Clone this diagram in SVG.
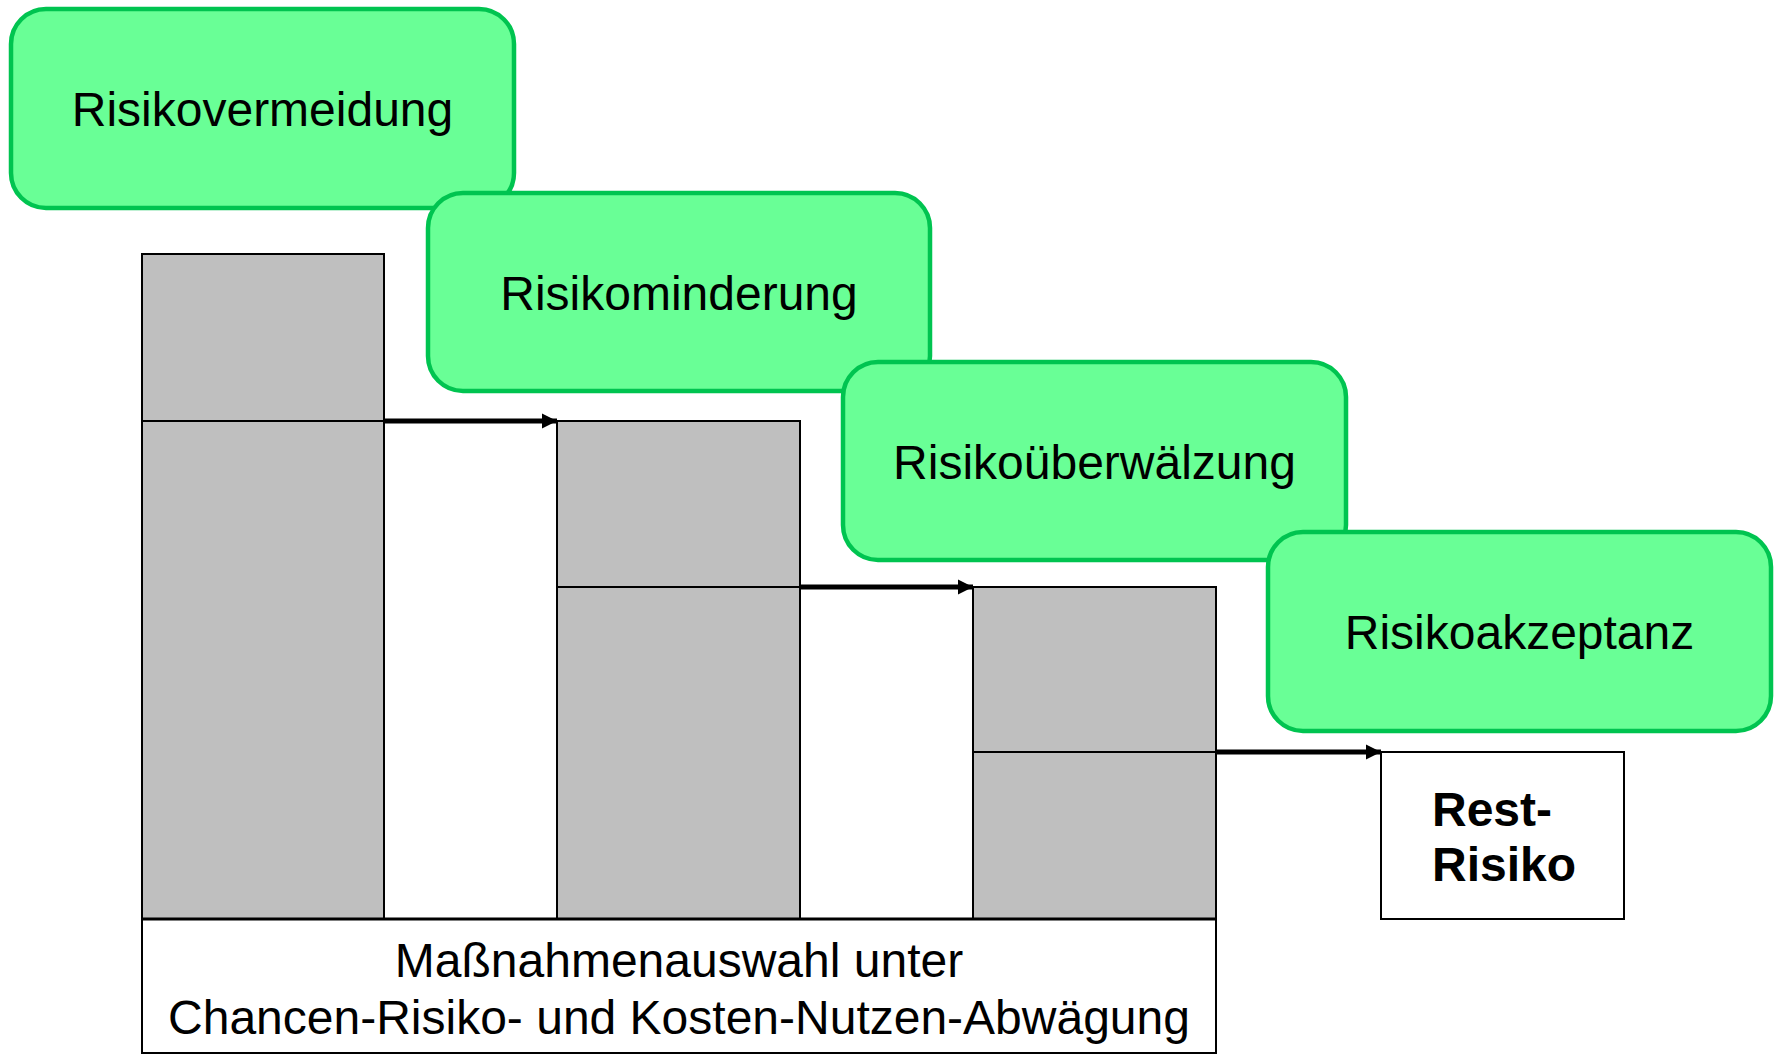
<svg xmlns="http://www.w3.org/2000/svg" width="1779" height="1054" viewBox="0 0 1779 1054">
<defs>
<style>
.stage{fill:#69FF96;stroke:#00C450;stroke-width:4.5}
.bar{fill:#BFBFBF;stroke:#000;stroke-width:2}
.lbl{font-family:"Liberation Sans",Arial,sans-serif;font-size:48px;fill:#000;text-anchor:middle}
.bold{font-family:"Liberation Sans",Arial,sans-serif;font-size:48px;font-weight:bold;fill:#000}
.conn{stroke:#000;stroke-width:5;fill:none}
</style>
<marker id="ah" markerUnits="userSpaceOnUse" markerWidth="16" markerHeight="16" refX="15" refY="8" orient="auto">
<path d="M0,0.5 L15,8 L0,15.5 Z" fill="#000"/>
</marker>
</defs>
<rect width="1779" height="1054" fill="#fff"/>
<g id="bars">
<g id="bar1">
<rect class="bar" x="142" y="254" width="242" height="167"/>
<rect class="bar" x="142" y="421" width="242" height="498"/>
</g>
<g id="bar2">
<rect class="bar" x="557" y="421" width="243" height="166"/>
<rect class="bar" x="557" y="587" width="243" height="332"/>
</g>
<g id="bar3">
<rect class="bar" x="973" y="587" width="243" height="165"/>
<rect class="bar" x="973" y="752" width="243" height="167"/>
</g>
</g>
<g id="rest-risiko">
<rect x="1381" y="752" width="243" height="167" fill="#fff" stroke="#000" stroke-width="2"/>
<text class="bold" x="1432" y="826">Rest-</text>
<text class="bold" x="1432" y="881">Risiko</text>
</g>
<g id="massnahmen">
<rect x="142" y="919" width="1074" height="134" fill="#fff" stroke="#000" stroke-width="2"/>
<line x1="142" y1="919" x2="1216" y2="919" stroke="#000" stroke-width="3"/>
<text class="lbl" x="679" y="977">Maßnahmenauswahl unter</text>
<text class="lbl" x="679" y="1034">Chancen-Risiko- und Kosten-Nutzen-Abwägung</text>
</g>
<g id="connectors">
<line class="conn" x1="384" y1="421" x2="557" y2="421" marker-end="url(#ah)"/>
<line class="conn" x1="800" y1="587" x2="973" y2="587" marker-end="url(#ah)"/>
<line class="conn" x1="1216" y1="752" x2="1381" y2="752" marker-end="url(#ah)"/>
</g>
<g id="risikovermeidung">
<rect class="stage" x="11" y="9" width="503" height="199" rx="35" ry="35"/>
<text class="lbl" x="262.5" y="126">Risikovermeidung</text>
</g>
<g id="risikominderung">
<rect class="stage" x="428" y="193" width="502" height="198" rx="35" ry="35"/>
<text class="lbl" x="679" y="310">Risikominderung</text>
</g>
<g id="risikoueberwaelzung">
<rect class="stage" x="843" y="362" width="503" height="198" rx="35" ry="35"/>
<text class="lbl" x="1094.5" y="479">Risikoüberwälzung</text>
</g>
<g id="risikoakzeptanz">
<rect class="stage" x="1268" y="532" width="503" height="199" rx="35" ry="35"/>
<text class="lbl" x="1519.5" y="649">Risikoakzeptanz</text>
</g>
</svg>
